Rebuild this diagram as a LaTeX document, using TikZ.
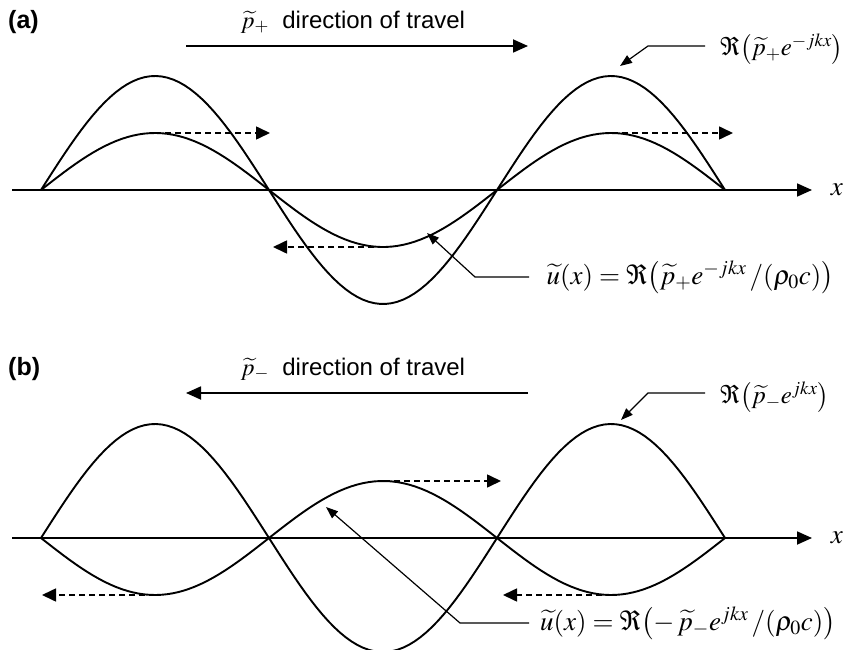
\documentclass[tikz,border=0pt]{standalone}
\usepackage{mathptmx}
\usepackage[no-math]{fontspec}
\setmainfont{Liberation Sans}
\usetikzlibrary{arrows.meta}

\begin{document}
\begin{tikzpicture}[
        x=1pt, y=1pt,
        every node/.style={inner sep=0pt},
        wave/.style={line width=1.9pt},
        axisline/.style={line width=1.8pt, -{Triangle[length=15pt,width=13pt]}},
        travel/.style={line width=1.8pt, -{Triangle[length=15pt,width=13pt]}},
        flow/.style={line width=1.6pt, dash pattern=on 6pt off 4pt, -{Triangle[length=14pt,width=13pt]}},
        leader/.style={line width=1.2pt, -{Triangle[length=12pt,width=9pt]}},
        caption/.style={font=\fontsize{24}{28}\selectfont},
        formula/.style={font=\fontsize{27}{31}\selectfont},
        realpart/.style={font=\fontsize{25}{29}\selectfont}
    ]
    \useasboundingbox (0,0) rectangle (845,649);

    % Panel (a)
    \node[caption, font=\fontsize{25}{28}\selectfont\bfseries, anchor=west] (la) at (8,627) {(a)};
    \node[caption] (ta) at (353,627) {$\widetilde{p}_{+}$\ \ direction of travel};
    \coordinate (ta1) at (186,603);
    \coordinate (ta2) at (528,603);
    \draw[travel] (ta1) -- (ta2);

    \coordinate (xa1) at (12,459);
    \coordinate (xa2) at (812,459);
    \draw[axisline] (xa1) -- (xa2);
    \node[formula] (xa) at (837,459) {$x$};

    \draw[wave] plot[domain=41:725, samples=120] (\x, {459+114*sin((\x-41)/456*360)});
    \draw[wave] plot[domain=41:725, samples=120] (\x, {459+57*sin((\x-41)/456*360)});

    \coordinate (fa1) at (155,516);
    \coordinate (fa2) at (270,516);
    \coordinate (fa3) at (612,516);
    \coordinate (fa4) at (733,516);
    \coordinate (fa5) at (384,402);
    \coordinate (fa6) at (273,402);
    \draw[flow] (fa1) -- (fa2);
    \draw[flow] (fa3) -- (fa4);
    \draw[flow] (fa5) -- (fa6);

    \node[realpart, anchor=west] (pa) at (720,600)
        {$\Re\!\left(\widetilde{p}_{+}e^{-jkx}\right)$};
    \coordinate (pa0) at (705,603);
    \coordinate (pa1) at (648,603);
    \coordinate (pa2) at (620,583);
    \draw[leader] (pa0) -- (pa1) -- (pa2);

    \node[formula, anchor=east] (ua) at (834,372)
        {$\widetilde{u}(x)=\Re\!\left(\widetilde{p}_{+}e^{-jkx}\,/(\rho_0c)\right)$};
    \coordinate (ua0) at (529,372);
    \coordinate (ua1) at (475,372);
    \coordinate (ua2) at (427,416);
    \draw[leader] (ua0) -- (ua1) -- (ua2);

    % Panel (b)
    \node[caption, font=\fontsize{25}{28}\selectfont\bfseries, anchor=west] (lb) at (8,280) {(b)};
    \node[caption] (tb) at (353,280) {$\widetilde{p}_{-}$\ \ direction of travel};
    \coordinate (tb1) at (528,256);
    \coordinate (tb2) at (186,256);
    \draw[travel] (tb1) -- (tb2);

    \coordinate (xb1) at (12,111);
    \coordinate (xb2) at (812,111);
    \draw[axisline] (xb1) -- (xb2);
    \node[formula] (xb) at (837,111) {$x$};

    \draw[wave] plot[domain=41:725, samples=120] (\x, {111+114*sin((\x-41)/456*360)});
    \draw[wave] plot[domain=41:725, samples=120] (\x, {111-57*sin((\x-41)/456*360)});

    \coordinate (fb1) at (384,168);
    \coordinate (fb2) at (501,168);
    \coordinate (fb3) at (155,54);
    \coordinate (fb4) at (42,54);
    \coordinate (fb5) at (612,54);
    \coordinate (fb6) at (503,54);
    \draw[flow] (fb1) -- (fb2);
    \draw[flow] (fb3) -- (fb4);
    \draw[flow] (fb5) -- (fb6);

    \node[realpart, anchor=west] (pb) at (720,252)
        {$\Re\!\left(\widetilde{p}_{-}e^{jkx}\right)$};
    \coordinate (pb0) at (705,256);
    \coordinate (pb1) at (648,256);
    \coordinate (pb2) at (621,229);
    \draw[leader] (pb0) -- (pb1) -- (pb2);

    \node[formula, anchor=east] (ub) at (836,26)
        {$\widetilde{u}(x)=\Re\!\left(-\,\widetilde{p}_{-}e^{jkx}\,/(\rho_0c)\right)$};
    \coordinate (ub0) at (529,26);
    \coordinate (ub1) at (460,26);
    \coordinate (ub2) at (326,142);
    \draw[leader] (ub0) -- (ub1) -- (ub2);

\end{tikzpicture}
\end{document}
